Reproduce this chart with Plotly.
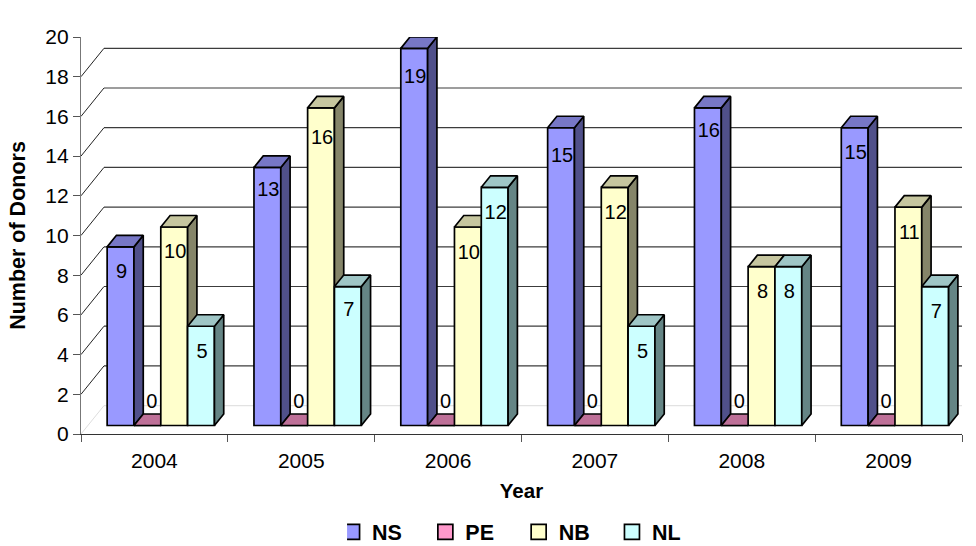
import plotly.graph_objects as go

years = ["2004", "2005", "2006", "2007", "2008", "2009"]
series_names = ["NS", "PE", "NB", "NL"]
ns_values = [9, 13, 19, 15, 16, 15]
pe_values = [0, 0, 0, 0, 0, 0]
nb_values = [10, 16, 10, 12, 8, 11]
nl_values = [5, 7, 12, 5, 8, 7]
series_values = [ns_values, pe_values, nb_values, nl_values]
y_ticks = list(range(0, 21, 2))

front_colors = ["#9999FF", "#FF99CC", "#FFFFCC", "#CCFFFF"]
top_colors = ["#7777C6", "#BE7098", "#C6C69F", "#9FC6C6"]
side_colors = ["#50508A", "#803060", "#858569", "#658585"]

# projection constants (axis units)
WALL_DX, WALL_DY = 23 / 147, 1.43
BASE_Y = 0.428
BAR_X0, BAR_W = 0.178, 0.1827
DEPTH_DX, DEPTH_DY = 9.3 / 147, 0.58
PX_PER_UNIT = 19.87
EDGE = "#000000"
EDGE_W = 1.7

# how far each data label sits below its bar's top edge, in pixels (PE sits above the floor)
label_drops = [
    [26, 24, 30, 29, 24, 26],
    [-23, -23, -23, -23, -23, -23],
    [26, 31, 27, 27, 26, 27],
    [27, 24, 27, 27, 26, 26],
]

fig = go.Figure()
n = len(years)


def flat(polys):
    xs, ys = [], []
    for px, py in polys:
        xs += list(px) + [px[0], None]
        ys += list(py) + [py[0], None]
    return xs, ys


# back wall, floor and wall lines (bottom subplot, under every bar)
for v in y_ticks:
    faint = v in (0, 20)
    col = "#E2E2E2" if faint else "#3C3C3C"
    fig.add_trace(go.Scatter(x=[WALL_DX, n + WALL_DX], y=[v + WALL_DY] * 2, mode="lines",
                             line=dict(color=col, width=1.2), cliponaxis=False,
                             showlegend=False, hoverinfo="skip"))
    fig.add_trace(go.Scatter(x=[0, WALL_DX], y=[v, v + WALL_DY], mode="lines",
                             line=dict(color="#DDDDDD" if faint else "#222222", width=1),
                             cliponaxis=False, showlegend=False, hoverinfo="skip"))
fig.add_trace(go.Scatter(x=[n, n + WALL_DX], y=[0, WALL_DY], mode="lines",
                         line=dict(color="#444444", width=1), cliponaxis=False,
                         showlegend=False, hoverinfo="skip"))

# one overlaying subplot per series, so that each series paints over the previous one
for s, (name, vals) in enumerate(zip(series_names, series_values)):
    xa, ya = f"x{s + 2}", f"y{s + 2}"
    lefts = [i + BAR_X0 + s * BAR_W for i in range(n)]
    fig.add_trace(go.Bar(x=lefts, y=vals, base=[BASE_Y] * n, width=BAR_W, offset=0,
                         marker=dict(color=front_colors[s], line=dict(color=EDGE, width=EDGE_W)),
                         name=name, xaxis=xa, yaxis=ya, showlegend=False,
                         customdata=years, hovertemplate="%{customdata}: %{y}<extra>" + name + "</extra>"))
    side, top = [], []
    for x0, v in zip(lefts, vals):
        xr, yt = x0 + BAR_W, BASE_Y + v
        side.append(([xr, xr + DEPTH_DX, xr + DEPTH_DX, xr],
                     [BASE_Y, BASE_Y + DEPTH_DY, yt + DEPTH_DY, yt]))
        top.append(([x0, xr, xr + DEPTH_DX, x0 + DEPTH_DX],
                    [yt, yt, yt + DEPTH_DY, yt + DEPTH_DY]))
    for polys, col in ((side, side_colors[s]), (top, top_colors[s])):
        px, py = flat(polys)
        fig.add_trace(go.Scatter(x=px, y=py, mode="lines", fill="toself", fillcolor=col,
                                 line=dict(color=EDGE, width=EDGE_W), xaxis=xa, yaxis=ya,
                                 cliponaxis=False, showlegend=False, hoverinfo="skip"))
    # legend key
    fig.add_trace(go.Scatter(x=[None], y=[None], mode="markers", name=name, xaxis=xa, yaxis=ya,
                             marker=dict(symbol="square", size=15, color=front_colors[s],
                                         line=dict(color=EDGE, width=EDGE_W))))

# data labels on the top layer
for s, (vals, drops) in enumerate(zip(series_values, label_drops)):
    shift = (4.5 if s == 1 else 1) / 147
    fig.add_trace(go.Scatter(x=[i + BAR_X0 + (s + 0.5) * BAR_W + shift for i in range(n)],
                             y=[v + BASE_Y - d / PX_PER_UNIT for v, d in zip(vals, drops)],
                             mode="text", text=[str(v) for v in vals],
                             textfont=dict(size=20, color="#000000"), textposition="middle center",
                             xaxis="x5", yaxis="y5", cliponaxis=False, showlegend=False,
                             hoverinfo="skip"))

font = "Liberation Sans, Arial, sans-serif"
layout = dict(
    width=976, height=546, paper_bgcolor="white", plot_bgcolor="rgba(0,0,0,0)",
    margin=dict(l=80.5, r=13.5, t=37, b=111.5, pad=0, autoexpand=False),
    font=dict(family=font, size=21, color="#000000"),
    barmode="overlay", showlegend=True,
    xaxis=dict(range=[0, n], tickmode="array", tickvals=[i + 0.5 for i in range(n)], ticktext=years,
               ticks="", ticklabelstandoff=8, showgrid=False, zeroline=False, showline=True,
               linecolor="#333333", linewidth=1.2,
               minor=dict(tickmode="array", tickvals=list(range(n + 1)), ticks="outside", ticklen=7,
                          tickcolor="#555555", tickwidth=1, showgrid=False),
               title=dict(text="<b>Year</b>", font=dict(size=20.5), standoff=12)),
    yaxis=dict(range=[0, 20], tickmode="array", tickvals=y_ticks, ticks="outside", ticklen=7,
               tickcolor="#555555", tickwidth=1, showgrid=False, zeroline=False, showline=True,
               linecolor="#777777", linewidth=1.2,
               title=dict(text="<b>Number of Donors</b>", font=dict(size=21.5), standoff=13)),
    legend=dict(orientation="h", x=0.302, xanchor="left", y=-0.195, yanchor="top", indentation=-15,
                entrywidth=63.3, entrywidthmode="pixels", font=dict(size=21.5, weight="bold"),
                bgcolor="rgba(0,0,0,0)"),
)
for k in (2, 3, 4, 5):
    layout[f"xaxis{k}"] = dict(range=[0, n], overlaying="x", visible=False)
    layout[f"yaxis{k}"] = dict(range=[0, 20], overlaying="y", visible=False)
fig.update_layout(**layout)
fig.write_html("out.html", config={"displayModeBar": False},
               post_script="document.body.style.margin='0';document.documentElement.style.overflow='hidden';")
